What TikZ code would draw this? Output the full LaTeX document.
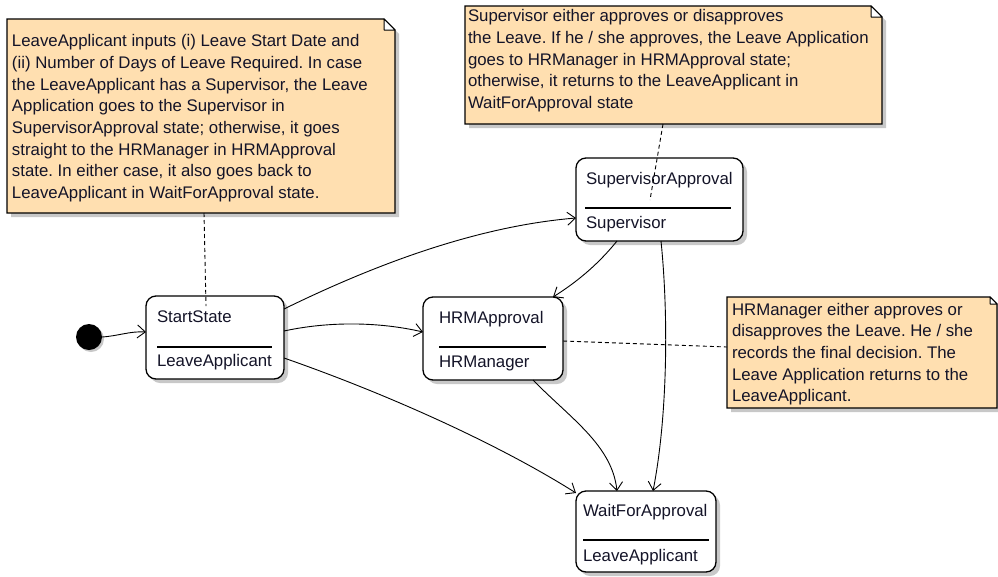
\documentclass[tikz,border=0pt]{standalone}
\usepackage{fontspec}
\setmainfont{Liberation Sans}
\usetikzlibrary{arrows.meta,calc,shadows}
\definecolor{notefill}{RGB}{255,223,176}
\definecolor{txt}{RGB}{20,20,40}
\definecolor{shcol}{RGB}{200,200,200}
\newcommand\notedraw[2]{%
 \fill[shcol] ($(#1.north west)+(4,4)$) -- ($(#1.north east)+(4-#2,4)$) -- ($(#1.north east)+(4,4+#2)$) -- ($(#1.south east)+(4,4)$) -- ($(#1.south west)+(4,4)$) -- cycle;
 \filldraw[fill=notefill, draw=black, line width=1.2pt] (#1.north west) -- ($(#1.north east)+(-#2,0)$) -- ($(#1.north east)+(0,#2)$) -- (#1.south east) -- (#1.south west) -- cycle;
 \filldraw[fill=white, draw=black, line width=1pt, line join=round] ($(#1.north east)+(-#2,0)$) -- ($(#1.north east)+(0,#2)$) -- ($(#1.north east)+(-#2,#2)$) -- cycle;
}
\frenchspacing
\begin{document}
\begin{tikzpicture}[x=1pt,y=-1pt,
  every node/.style={inner sep=0pt, outer sep=0pt},
  statebox/.style={draw=black, line width=1.3pt, fill=white, rounded corners=10pt, anchor=north west,
     general shadow={fill=shcol, shadow xshift=4pt, shadow yshift=-4pt}},
  notearea/.style={draw=none, anchor=north west},
  lbl/.style={anchor=base west, font=\fontsize{16.8}{21.67}\selectfont\frenchspacing, text=txt},
  notetext/.style={anchor=north west, align=left, font=\fontsize{16.8}{21.67}\selectfont\frenchspacing, text=txt},
  sep/.style={line width=1.1pt},
  trans/.style={line width=0.9pt, -{Straight Barb[length=8pt,width=13pt,line width=0.9pt]}},
  link/.style={line width=0.9pt, dash pattern=on 4pt off 3pt},
]
\useasboundingbox (0,0) rectangle (998,576);

% notes
\node[notearea, minimum width=388, minimum height=194] (note1) at (7,19) {};
\notedraw{note1}{11}
\node[notetext] (note1text) at (12,34.5) {LeaveApplicant inputs (i) Leave Start Date and\\
(ii) Number of Days of Leave Required. In case\\
the LeaveApplicant has a Supervisor, the Leave\\
Application goes to the Supervisor in\\
SupervisorApproval state; otherwise, it goes\\
straight to the HRManager in HRMApproval\\
state. In either case, it also goes back to\\
LeaveApplicant in WaitForApproval state.};

\node[notearea, minimum width=417, minimum height=118] (note2) at (465,6) {};
\notedraw{note2}{11}
\node[notetext] (note2text) at (468,9.6) {Supervisor either approves or disapproves\\
the Leave. If he / she approves, the Leave Application\\
goes to HRManager in HRMApproval state;\\
otherwise, it returns to the LeaveApplicant in\\
WaitForApproval state};

\node[notearea, minimum width=270, minimum height=111] (note3) at (727,297) {};
\notedraw{note3}{7}
\node[notetext] (note3text) at (732,303) {HRManager either approves or\\
disapproves the Leave. He / she\\
records the final decision. The\\
Leave Application returns to the\\
LeaveApplicant.};

% initial state
\node[circle, fill=black, minimum size=26, general shadow={fill=shcol, shadow xshift=2pt, shadow yshift=-2pt}] (init) at (89,337) {};

% states
\node[statebox, minimum width=138, minimum height=83] (start) at (146,296) {};
\node[lbl] (startname) at (157,322) {StartState};
\draw[sep] (157,347) -- (272,347);
\node[lbl] (startrole) at (157,366) {LeaveApplicant};

\node[statebox, minimum width=140, minimum height=83] (hrm) at (423,297) {};
\node[lbl] (hrmname) at (439,323) {HRMApproval};
\draw[sep] (439,347) -- (546,347);
\node[lbl] (hrmrole) at (439,367) {HRManager};

\node[statebox, minimum width=167, minimum height=83] (sup) at (576,158) {};
\node[lbl] (supname) at (586,184) {SupervisorApproval};
\draw[sep] (585,208) -- (731,208);
\node[lbl] (suprole) at (586,228) {Supervisor};

\node[statebox, minimum width=140, minimum height=81] (wait) at (576,491) {};
\node[lbl] (waitname) at (583,516) {WaitForApproval};
\draw[sep] (583,540) -- (709,540);
\node[lbl] (waitrole) at (583,561) {LeaveApplicant};

% transitions
\draw[trans] (init.east) .. controls (118,336) and (130,331) .. (start.west |- 0,332);
\draw[trans] (start.east |- 0,309) .. controls (380,262) and (480,226) .. (sup.west |- 0,218);
\draw[trans] (start.east |- 0,331) .. controls (330,321) and (380,322) .. (hrm.west |- 0,332);
\draw[trans] (start.east |- 0,358) .. controls (390,395) and (500,445) .. (wait.west |- 0,493);
\draw[trans] (sup.south -| 617,0) .. controls (600,262) and (580,280) .. (hrm.north -| 553,0);
\draw[trans] (sup.south -| 661,0) .. controls (669,320) and (667,420) .. (wait.north -| 653,0);
\draw[trans] (hrm.south -| 533,0) .. controls (570,418) and (612,445) .. (wait.north -| 617,0);

% note links
\coordinate (l1end) at (206,306);
\coordinate (l2end) at (650,200);
\draw[link] (note1.south -| 204,0) -- (l1end);
\draw[link] (note2.south -| 663,0) -- (l2end);
\draw[link] (hrm.east |- 0,341) -- (note3.west |- 0,347);
\end{tikzpicture}
\end{document}
